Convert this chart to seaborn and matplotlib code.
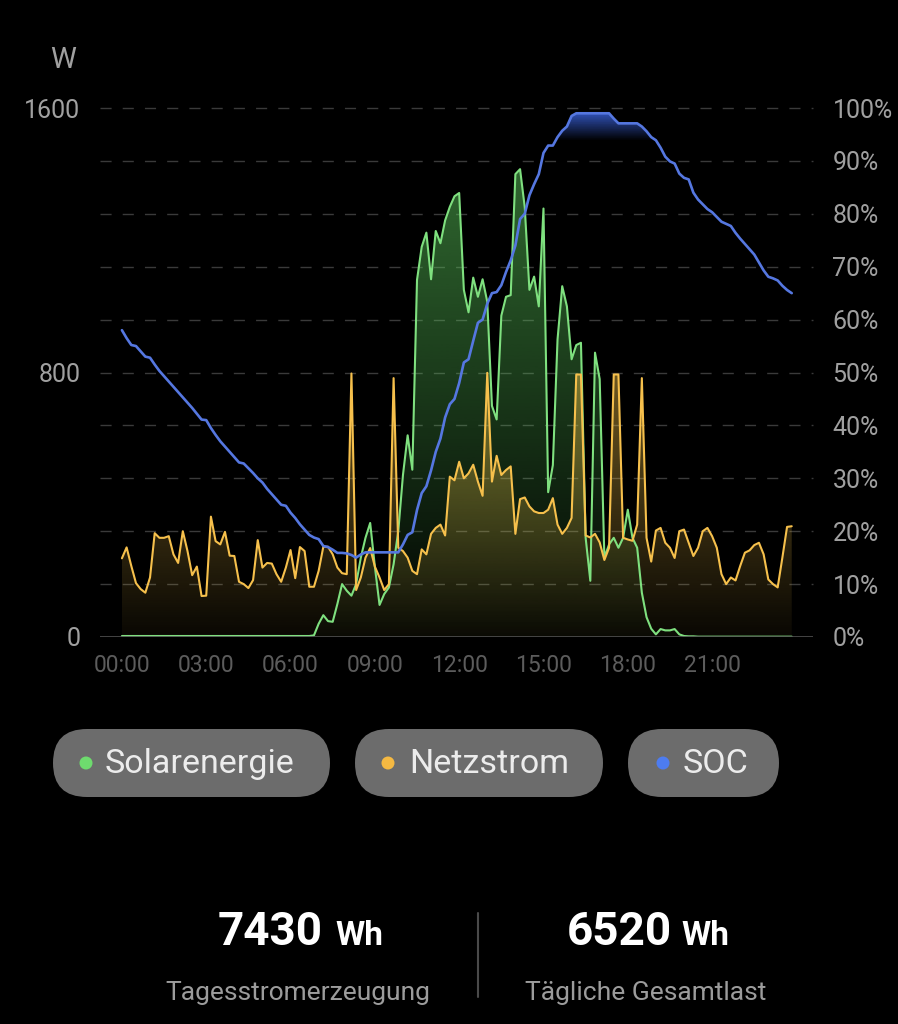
import numpy as np
import pandas as pd
import matplotlib
matplotlib.use("Agg")
import matplotlib.pyplot as plt
import seaborn as sns
from matplotlib.colors import to_rgb
from matplotlib.patches import FancyBboxPatch, Circle

# --- data: 10 minute samples, one row of six values per hour ---
solar = [
    3, 3, 3, 3, 3, 3,
    3, 3, 3, 3, 3, 3,
    3, 3, 3, 3, 3, 3,
    3, 3, 3, 3, 3, 3,
    3, 3, 3, 3, 3, 3,
    3, 3, 3, 3, 3, 3,
    3, 3, 3, 3, 3, 5,
    40, 66, 48, 46, 100, 160,
    140, 125, 160, 240, 300, 345,
    213, 97, 130, 150, 220, 320,
    490, 610, 506, 1080, 1180, 1223,
    1082, 1228, 1191, 1260, 1301, 1333,
    1343, 1050, 982, 1087, 1029, 1082,
    1014, 699, 658, 972, 1029, 1034,
    1400, 1415, 1300, 1050, 1090, 1000,
    1296, 438, 520, 900, 1061, 1000,
    840, 883, 890, 300, 170, 860,
    780, 240, 280, 300, 270, 300,
    385, 300, 270, 134, 60, 25,
    8, 24, 20, 20, 24, 8,
    3, 2, 2, 1, 1, 1,
    1, 1, 1, 1, 1, 1,
    1, 1, 1, 1, 1, 1,
    1, 1, 1, 1, 1, 1,
]
grid = [
    238, 271, 215, 163, 145, 134,
    180, 314, 300, 300, 305, 250,
    224, 320, 260, 187, 213, 124,
    125, 364, 290, 280, 318, 246,
    245, 167, 160, 148, 172, 293,
    210, 224, 222, 190, 167, 210,
    263, 178, 272, 260, 152, 152,
    200, 273, 273, 250, 210, 193,
    190, 797, 142, 180, 240, 269,
    213, 180, 142, 160, 783, 270,
    260, 240, 200, 190, 265, 250,
    312, 330, 340, 307, 485, 474,
    530, 480, 495, 521, 470, 427,
    799, 470, 548, 490, 505, 516,
    312, 417, 422, 395, 380, 375,
    375, 385, 420, 340, 312, 330,
    360, 794, 794, 307, 301, 312,
    286, 233, 270, 794, 794, 300,
    295, 291, 340, 783, 300, 228,
    322, 330, 285, 270, 239, 320,
    325, 285, 245, 270, 320, 330,
    305, 270, 190, 160, 180, 171,
    215, 255, 262, 278, 285, 250,
    174, 160, 150, 240, 333, 335,
]
soc = [
    58, 56.5, 55.2, 55, 54, 53,
    52.8, 51.5, 50.3, 49.3, 48.3, 47.3,
    46.3, 45.3, 44.3, 43.3, 42.2, 41.1,
    41, 39.5, 38.2, 37, 36, 35,
    34, 33, 32.8, 31.9, 31, 30,
    29.2, 28, 27, 26, 25, 24.8,
    23.5, 22.5, 21.3, 20.3, 19.3, 18.8,
    18.5, 17.2, 17, 16.5, 15.9, 15.9,
    15.8, 15.5, 15, 15.6, 16, 16,
    16, 16, 16, 16, 16, 16,
    17.5, 19.3, 19.8, 24, 27.2, 28.5,
    31.5, 35, 37.5, 41.5, 44, 45,
    48, 51.9, 52.5, 56, 59.4, 60,
    63, 65, 65.2, 66.5, 69, 71.2,
    74, 79, 80, 83.5, 85.6, 87.5,
    91.5, 92.9, 92.9, 94.5, 95.7, 96.5,
    98.5, 99, 99, 99, 99, 99,
    99, 99, 99, 98, 97.1, 97.1,
    97.1, 97.1, 97.1, 96.5, 95.6, 94.5,
    93.9, 92.5, 90.8, 89.9, 89.5, 87.6,
    86.8, 86.5, 84, 82.7, 81.8, 80.9,
    80.3, 79.4, 78.5, 78.1, 77.7, 76.4,
    75.3, 74.3, 73.3, 72.3, 70.8, 69.3,
    68.1, 67.8, 67.4, 66.4, 65.6, 65.0,
]
xtick_hours = [0, 3, 6, 9, 12, 15, 18, 21]
xtick_labels = ["00:00", "03:00", "06:00", "09:00", "12:00", "15:00", "18:00", "21:00"]
legend_names = ["Solarenergie", "Netzstrom", "SOC"]
total_gen = "7430"
total_load = "6520"

GREEN = "#7fe07f"
YELLOW = "#f6c04c"
BLUE = "#5577e0"

df = pd.DataFrame({
    "hour": np.arange(len(solar)) / 6.0,
    "solar": solar,
    "grid": grid,
    "soc": soc,
})

sns.set_theme(style="dark")
plt.rcParams["font.family"] = ["Roboto", "DejaVu Sans"]
plt.rcParams["axes.facecolor"] = "black"
plt.rcParams["figure.facecolor"] = "black"

fig = plt.figure(figsize=(8.98, 10.24), dpi=100)
ax = fig.add_axes([100 / 898, 1 - 637 / 1024, 713 / 898, 529 / 1024])
ax.set_facecolor("black")


def gradient_fill(axis, x, y, color, alpha_fn, ylo, yhi, z):
    poly = axis.fill_between(x, y, 0, facecolor="none", edgecolor="none")
    path = poly.get_paths()[0]
    yy = np.linspace(ylo, yhi, 300)
    img = np.zeros((300, 1, 4))
    img[:, :, :3] = to_rgb(color)
    img[:, 0, 3] = alpha_fn(yy)
    im = axis.imshow(img, aspect="auto", origin="lower",
                     extent=[x.min(), x.max(), ylo, yhi], zorder=z)
    im.set_clip_path(path, transform=axis.transData)


x = df["hour"].to_numpy()
smax = df["solar"].max()
gmax = df["grid"].max()
gradient_fill(ax, x, df["solar"].to_numpy(), "#5cc85c",
              lambda v: 0.02 + 0.5 * v / smax, 0, smax, 1)
gradient_fill(ax, x, df["grid"].to_numpy(), "#f0c048",
              lambda v: 0.04 + 0.42 * v / gmax, 0, gmax, 2)

sns.lineplot(data=df, x="hour", y="solar", ax=ax, color=GREEN, linewidth=1.5, zorder=3)
sns.lineplot(data=df, x="hour", y="grid", ax=ax, color=YELLOW, linewidth=1.5, zorder=4)

ax.set_xlim(-0.78, 24.59)
ax.set_ylim(0, 1600)
ax.set_yticks(np.arange(0, 1601, 160))
ax.set_yticklabels(["0", "", "", "", "", "800", "", "", "", "", "1600"])
ax.set_xticks(xtick_hours)
ax.set_xticklabels(xtick_labels)
ax.tick_params(axis="y", colors="#a0a0a0", labelsize=18, length=0, pad=14)
ax.tick_params(axis="x", colors="#5c5c5c", labelsize=16.5, length=0, pad=12)
ax.grid(False)
for v in np.arange(160, 1601, 160):
    ax.axhline(v, color="#3a3a3a", linewidth=1, dashes=(8, 8), zorder=0, clip_on=False)
ax.axhline(0, color="#505050", linewidth=1.2, zorder=5)
for s in ax.spines.values():
    s.set_visible(False)
ax.set_xlabel("")
ax.set_ylabel("")

ax2 = ax.twinx()
ax2.set_facecolor("none")
gradient_fill(ax2, x, df["soc"].to_numpy(), "#3a62dc",
              lambda v: 0.8 * np.clip((v - 94.0) / 5.0, 0, 1), 0, 100, 1)
sns.lineplot(data=df, x="hour", y="soc", ax=ax2, color=BLUE, linewidth=1.9, zorder=3)
ax2.set_xlim(-0.78, 24.59)
ax2.set_ylim(0, 100)
ax2.set_yticks(np.arange(0, 101, 10))
ax2.set_yticklabels([f"{v}%" for v in range(0, 101, 10)])
ax2.tick_params(axis="y", colors="#a0a0a0", labelsize=18, length=0, pad=14)
ax2.grid(False)
ax2.set_ylabel("")
for s in ax2.spines.values():
    s.set_visible(False)

fig.text(63 / 898, 1 - 60 / 1024, "W", color="#a0a0a0", fontsize=21,
         ha="center", va="center")

# overlay in pixel coordinates for legend pills and totals
ov = fig.add_axes([0, 0, 1, 1])
ov.set_xlim(0, 898)
ov.set_ylim(1024, 0)
ov.axis("off")
ov.patch.set_alpha(0)

pills = [(53, 330, 86, 105), (355, 603, 388, 409), (628, 779, 663, 683)]
colors = ["#6edb6e", "#f5b942", "#4d7cf0"]
for (x0, x1, dx, tx), name, c in zip(pills, legend_names, colors):
    ov.add_patch(FancyBboxPatch((x0, 729), x1 - x0, 68,
                                boxstyle="round,pad=0,rounding_size=34",
                                facecolor="#6c6c6c", edgecolor="none"))
    ov.add_patch(Circle((dx, 763), 6.5, facecolor=c, edgecolor="none"))
    ov.text(tx, 764, name, color="#ececec", fontsize=24.5, ha="left", va="center")

ov.text(323, 945, total_gen, color="white", fontsize=33, fontweight="bold",
        ha="right", va="baseline")
ov.text(335, 945, "Wh", color="white", fontsize=24, fontweight="bold",
        ha="left", va="baseline")
ov.text(298, 1000, "Tagesstromerzeugung", color="#9c9c9c", fontsize=19,
        ha="center", va="baseline")
ov.text(672, 945, total_load, color="white", fontsize=33, fontweight="bold",
        ha="right", va="baseline")
ov.text(681, 945, "Wh", color="white", fontsize=24, fontweight="bold",
        ha="left", va="baseline")
ov.text(646, 1000, "Tägliche Gesamtlast", color="#9c9c9c", fontsize=19,
        ha="center", va="baseline")
ov.plot([478, 478], [913, 997], color="#4a4a4a", linewidth=1.5)

fig.savefig("out.png", dpi=100, facecolor="black")
